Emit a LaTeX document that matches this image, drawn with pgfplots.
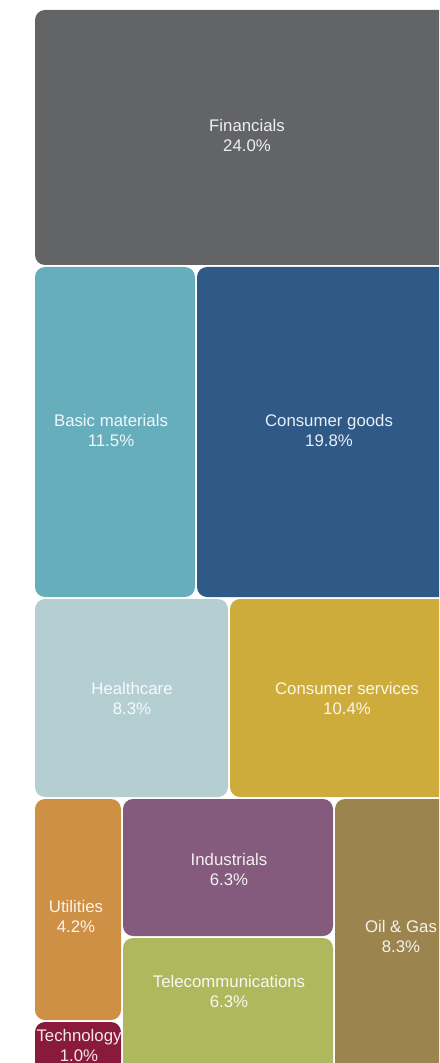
\documentclass[border=0pt]{standalone}
\usepackage{pgfplots}
\pgfplotsset{compat=1.18}
\usepackage{fontspec}
\setmainfont{Liberation Sans}

\definecolor{cFin}{RGB}{99,100,102}
\definecolor{cBas}{RGB}{103,174,189}
\definecolor{cCgo}{RGB}{47,90,135}
\definecolor{cHea}{RGB}{181,206,210}
\definecolor{cCse}{RGB}{206,172,60}
\definecolor{cUti}{RGB}{206,144,68}
\definecolor{cInd}{RGB}{132,91,124}
\definecolor{cTel}{RGB}{176,184,94}
\definecolor{cOil}{RGB}{156,132,79}
\definecolor{cTec}{RGB}{138,26,60}

\tikzset{
  tile/.style={fill=#1, draw=none, rounded corners=5pt},
  lab/.style={text=white, text opacity=0.9, align=center,
    font=\fontsize{8.4}{10}\selectfont, inner sep=0pt},
}

\begin{document}
\begin{tikzpicture}
  \begin{axis}[
      scale only axis, width=219.5pt, height=531.5pt,
      xmin=0, xmax=439, ymin=0, ymax=1063, y dir=reverse,
      hide axis, clip=true, no markers,
    ]
    % tiles in pixel units (x right, y down)
    \addplot[tile=cFin] coordinates {(35,10) (461,10) (461,265) (35,265)} -- cycle;
    \addplot[tile=cBas] coordinates {(35,267) (195,267) (195,597) (35,597)} -- cycle;
    \addplot[tile=cCgo] coordinates {(197,267) (461,267) (461,597) (197,597)} -- cycle;
    \addplot[tile=cHea] coordinates {(35,599) (228,599) (228,797) (35,797)} -- cycle;
    \addplot[tile=cCse] coordinates {(230,599) (461,599) (461,797) (230,797)} -- cycle;
    \addplot[tile=cUti] coordinates {(35,799) (121,799) (121,1020) (35,1020)} -- cycle;
    \addplot[tile=cTec] coordinates {(35,1022) (121,1022) (121,1072) (35,1072)} -- cycle;
    \addplot[tile=cInd] coordinates {(123,799) (333,799) (333,936) (123,936)} -- cycle;
    \addplot[tile=cTel] coordinates {(123,938) (333,938) (333,1072) (123,1072)} -- cycle;
    \addplot[tile=cOil] coordinates {(335,799) (461,799) (461,1072) (335,1072)} -- cycle;

    \node[lab] at (axis cs:247,136) {Financials\\24.0\%};
    \node[lab] at (axis cs:111,430) {Basic materials\\11.5\%};
    \node[lab] at (axis cs:329,430) {Consumer goods\\19.8\%};
    \node[lab] at (axis cs:132,698) {Healthcare\\8.3\%};
    \node[lab] at (axis cs:347,698) {Consumer services\\10.4\%};
    \node[lab] at (axis cs:76,916) {Utilities\\4.2\%};
    \node[lab] at (axis cs:229,869) {Industrials\\6.3\%};
    \node[lab] at (axis cs:229,991) {Telecommunications\\6.3\%};
    \node[lab] at (axis cs:401,936) {Oil \& Gas\\8.3\%};
    \node[lab] at (axis cs:79,1045) {Technology\\1.0\%};
  \end{axis}
  % keep the full axis area (white margins) in the picture
  \path (current axis.south west) rectangle (current axis.north east);
\end{tikzpicture}
\end{document}
